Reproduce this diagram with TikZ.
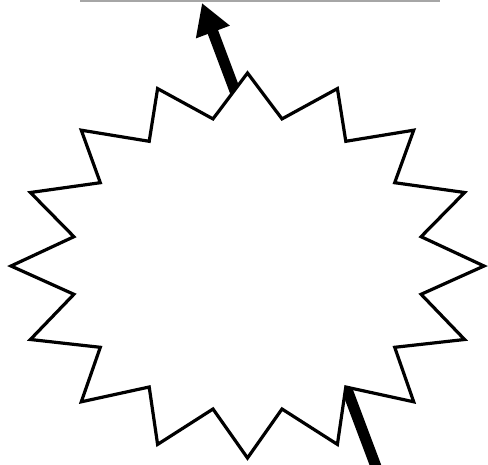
\documentclass[tikz,border=0pt]{standalone}
\usepackage{tikz}
\usetikzlibrary{arrows.meta}
\begin{document}
\begin{tikzpicture}[x=1pt,y=-1pt]
  \clip (0,0) rectangle (488,464);
  \draw[gray!70,line width=1.5pt] (80,0.8) -- (440,0.8);
  \coordinate (tail) at (378.5,473.4);
  \coordinate (tip) at (202,3);
  \draw[-{Triangle[length=31pt,width=34pt]},line width=11pt] (tail) -- (tip);
  \draw[fill=white,line width=3.2pt] plot coordinates {(247.5,73.0) (282.0,118.9) (337.4,88.6) (345.8,141.3) (413.7,130.2) (394.7,182.7) (464.6,192.5) (421.1,236.7) (484.0,266.0) (421.1,294.3) (464.6,339.5) (394.7,347.3) (413.7,401.8) (345.8,387.0) (337.4,444.4) (282.0,409.0) (247.5,458.0) (213.0,409.0) (157.6,444.4) (149.2,387.0) (81.3,401.8) (100.3,347.3) (30.4,339.5) (73.9,294.3) (11.0,266.0) (73.9,236.7) (30.4,192.5) (100.3,182.7) (81.3,130.2) (149.2,141.3) (157.6,88.6) (213.0,118.9)} -- cycle;
\end{tikzpicture}
\end{document}
